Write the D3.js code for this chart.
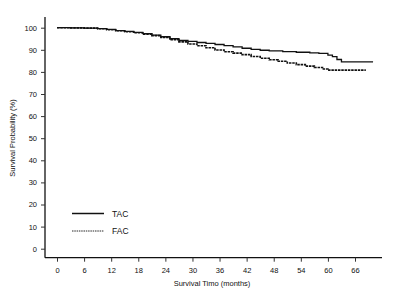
<!DOCTYPE html>
<html>
<head>
<meta charset="utf-8">
<script src="https://cdn.jsdelivr.net/npm/d3@7"></script>
<style>
  body { margin: 0; background: #fff; }
  svg { display: block; }
  text { font-family: "Liberation Sans", Arial, sans-serif; fill: #111; }
</style>
</head>
<body>
<svg id="chart" width="400" height="302"></svg>
<script>
// Kaplan-Meier steps: [month, survival %]
const tacMonths = [0, 3, 6, 9, 11, 13, 15, 17, 19, 21, 23, 25, 27, 29, 31, 33, 35, 37, 39, 41, 43, 45, 47, 50, 53, 56, 58, 60, 61, 62, 63, 70];
const tacSurv   = [100, 99.9, 99.8, 99.6, 99.2, 98.7, 98.3, 97.9, 97.3, 96.6, 95.9, 95.0, 94.2, 93.8, 93.3, 92.9, 92.4, 91.9, 91.3, 90.7, 90.2, 89.8, 89.5, 89.2, 88.9, 88.6, 88.4, 87.6, 86.9, 85.6, 84.5, 84.5];

const facMonths = [0, 3, 6, 9, 11, 13, 15, 17, 19, 21, 23, 25, 27, 29, 31, 33, 35, 37, 39, 41, 43, 45, 47, 49, 51, 53, 55, 57, 59, 60, 68.4];
const facSurv   = [100, 99.9, 99.8, 99.5, 99.1, 98.6, 98.2, 97.7, 97.1, 96.4, 95.6, 94.6, 93.6, 92.6, 91.8, 90.9, 89.9, 89.1, 88.5, 87.8, 87.0, 86.2, 85.5, 84.8, 84.0, 83.3, 82.6, 82.0, 81.3, 80.8, 80.8];

const xTicks = [0, 6, 12, 18, 24, 30, 36, 42, 48, 54, 60, 66];
const yTicks = [0, 10, 20, 30, 40, 50, 60, 70, 80, 90, 100];
const seriesNames = ["TAC", "FAC"];

const svg = d3.select("#chart");

// layout
const axisLeft = 45, axisBottom = 257.7, axisTop = 17, axisRight = 382;

const x = d3.scaleLinear().domain([0, 66]).range([57, 355]);
const y = d3.scaleLinear().domain([0, 100]).range([248.7, 27.7]);

// axis lines
svg.append("line")
    .attr("x1", axisLeft).attr("x2", axisLeft)
    .attr("y1", axisTop).attr("y2", axisBottom)
    .attr("stroke", "#111").attr("stroke-width", 1.3);
svg.append("line")
    .attr("x1", axisLeft).attr("x2", axisRight)
    .attr("y1", axisBottom).attr("y2", axisBottom)
    .attr("stroke", "#111").attr("stroke-width", 1.3);

// y axis
const yAxis = svg.append("g")
    .attr("transform", `translate(${axisLeft},0)`)
    .call(d3.axisLeft(y).tickValues(yTicks).tickSize(4).tickPadding(4));
yAxis.select(".domain").remove();
yAxis.selectAll("text").attr("font-size", "7.5px").style("font-family", "Liberation Sans, Arial, sans-serif");
yAxis.selectAll("line").attr("stroke", "#333");

// x axis
const xAxis = svg.append("g")
    .attr("transform", `translate(0,${axisBottom})`)
    .call(d3.axisBottom(x).tickValues(xTicks).tickSize(4).tickPadding(6));
xAxis.select(".domain").remove();
xAxis.selectAll("text").attr("font-size", "7.5px").style("font-family", "Liberation Sans, Arial, sans-serif");
xAxis.selectAll("line").attr("stroke", "#333");

// titles
svg.append("text")
    .attr("x", 212).attr("y", 286)
    .attr("text-anchor", "middle")
    .attr("font-size", "7.5px")
    .text("Survival Timo (months)");
svg.append("text")
    .attr("transform", "translate(15,138) rotate(-90)")
    .attr("text-anchor", "middle")
    .attr("font-size", "7.5px")
    .text("Survival Probability (%)");

// curves
const line = d3.line()
    .x(d => x(d[0]))
    .y(d => y(d[1]))
    .curve(d3.curveStepAfter);

const tacData = tacMonths.map((m, i) => [m, tacSurv[i]]);
const facData = facMonths.map((m, i) => [m, facSurv[i]]);

svg.append("path")
    .datum(facData)
    .attr("d", line)
    .attr("fill", "none")
    .attr("stroke", "#111")
    .attr("stroke-width", 1.6)
    .attr("stroke-dasharray", "2.5,0.8");

svg.append("path")
    .datum(tacData)
    .attr("d", line)
    .attr("fill", "none")
    .attr("stroke", "#111")
    .attr("stroke-width", 1.3);

// legend
const legend = svg.append("g");
seriesNames.forEach(function (name, i) {
    const ly = 213.5 + i * 17.5;
    legend.append("line")
        .attr("x1", 72).attr("x2", 104)
        .attr("y1", ly).attr("y2", ly)
        .attr("stroke", "#111")
        .attr("stroke-width", i === 0 ? 1.5 : 0.9)
        .attr("stroke-dasharray", i === 0 ? null : "1.5,0.8");
    legend.append("text")
        .attr("x", 112).attr("y", ly + 3)
        .attr("font-size", "8.5px")
        .text(name);
});
</script>
</body>
</html>
